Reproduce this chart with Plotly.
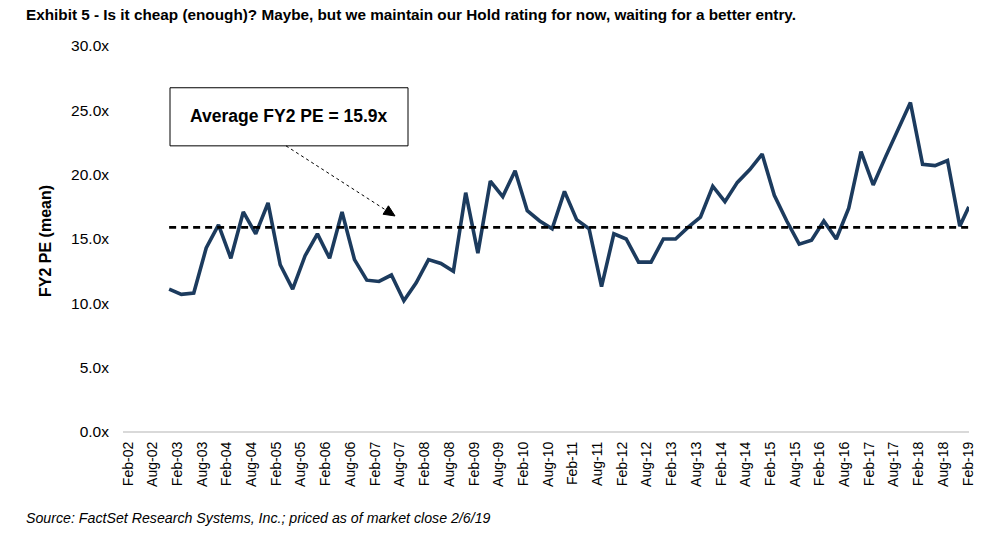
import plotly.graph_objects as go

# ---------------- data ----------------
dates = [
    "2002-12-01",
    "2003-03-01", "2003-06-01", "2003-09-01", "2003-12-01",
    "2004-03-01", "2004-06-01", "2004-09-01", "2004-12-01",
    "2005-03-01", "2005-06-01", "2005-09-01", "2005-12-01",
    "2006-03-01", "2006-06-01", "2006-09-01", "2006-12-01",
    "2007-03-01", "2007-06-01", "2007-09-01", "2007-12-01",
    "2008-03-01", "2008-06-01", "2008-09-01", "2008-12-01",
    "2009-03-01", "2009-06-01", "2009-09-01", "2009-12-01",
    "2010-03-01", "2010-06-01", "2010-09-01", "2010-12-01",
    "2011-03-01", "2011-06-01", "2011-09-01", "2011-12-01",
    "2012-03-01", "2012-06-01", "2012-09-01", "2012-12-01",
    "2013-03-01", "2013-06-01", "2013-09-01", "2013-12-01",
    "2014-03-01", "2014-06-01", "2014-09-01", "2014-12-01",
    "2015-03-01", "2015-06-01", "2015-09-01", "2015-12-01",
    "2016-03-01", "2016-06-01", "2016-09-01", "2016-12-01",
    "2017-03-01", "2017-06-01", "2017-09-01", "2017-12-01",
    "2018-03-01", "2018-06-01", "2018-09-01", "2018-12-01",
    "2019-02-06",
]

fy2_pe = [
    11.1,
    10.7, 10.8, 14.3, 16.1,
    13.5, 17.1, 15.4, 17.8,
    13.0, 11.1, 13.7, 15.4,
    13.5, 17.1, 13.4, 11.8,
    11.7, 12.2, 10.2, 11.6,
    13.4, 13.1, 12.5, 18.6,
    13.9, 19.5, 18.3, 20.3,
    17.2, 16.4, 15.8, 18.7,
    16.5, 15.8, 11.3, 15.4,
    15.0, 13.2, 13.2, 15.0,
    15.0, 15.9, 16.7, 19.1,
    17.9, 19.4, 20.4, 21.6,
    18.4, 16.4, 14.6, 14.9,
    16.4, 15.0, 17.4, 21.8,
    19.2, 21.4, 23.5, 25.6,
    20.8, 20.7, 21.1, 16.0,
    17.5,
]

average_pe = 15.9

tick_dates = [
    "2002-02-01", "2002-08-01", "2003-02-01", "2003-08-01", "2004-02-01", "2004-08-01",
    "2005-02-01", "2005-08-01", "2006-02-01", "2006-08-01", "2007-02-01", "2007-08-01",
    "2008-02-01", "2008-08-01", "2009-02-01", "2009-08-01", "2010-02-01", "2010-08-01",
    "2011-02-01", "2011-08-01", "2012-02-01", "2012-08-01", "2013-02-01", "2013-08-01",
    "2014-02-01", "2014-08-01", "2015-02-01", "2015-08-01", "2016-02-01", "2016-08-01",
    "2017-02-01", "2017-08-01", "2018-02-01", "2018-08-01", "2019-02-01",
]

y_ticks = [0, 5, 10, 15, 20, 25, 30]
y_tick_labels = ["0.0x", "5.0x", "10.0x", "15.0x", "20.0x", "25.0x", "30.0x"]

title_text = ("Exhibit 5 - Is it cheap (enough)? Maybe, but we maintain our Hold rating "
              "for now, waiting for a better entry.")
source_text = "Source: FactSet Research Systems, Inc.; priced as of market close 2/6/19"
box_text = "Average FY2 PE = 15.9x"
y_title = "FY2 PE (mean)"

# ---------------- layout helpers (window pixel -> paper) ----------------
# the page's default body margin is removed (post_script), so figure pixels == window pixels
W, H = 1000, 539
L, R, T, B = 123, 969, 46.3, 431.7   # plot area in window pixels


def px(x):
    return (x - L) / (R - L)


def py(y):
    return (B - y) / (B - T)


FONT = "Arial, Liberation Sans, sans-serif"
NAVY = "#1c3b5e"

fig = go.Figure()

fig.add_trace(go.Scatter(
    x=dates, y=fy2_pe, mode="lines",
    line=dict(color=NAVY, width=3.6),
    hoverinfo="skip", showlegend=False,
))

fig.add_trace(go.Scatter(
    x=dates, y=[average_pe] * len(dates), mode="lines",
    line=dict(color="black", width=2.6, dash="7px,5px"),
    hoverinfo="skip", showlegend=False,
))

# annotation box
bx0, bx1, by0, by1 = 170, 408, 88, 146
fig.add_shape(type="rect", xref="paper", yref="paper",
              x0=px(bx0), x1=px(bx1), y0=py(by1), y1=py(by0),
              line=dict(color="black", width=1), fillcolor="white", layer="above")
fig.add_annotation(xref="paper", yref="paper", x=px(289), y=py(116),
                   xanchor="center", yanchor="middle",
                   text="<b>" + box_text + "</b>", showarrow=False,
                   font=dict(family=FONT, size=17.5, color="black"))

# dotted arrow
sx, sy = 286, 146
tx, ty = 395, 216
dx, dy = tx - sx, ty - sy
n = (dx ** 2 + dy ** 2) ** 0.5
ux, uy = dx / n, dy / n
hl, hw = 11, 5
bcx, bcy = tx - hl * ux, ty - hl * uy
fig.add_shape(type="line", xref="paper", yref="paper",
              x0=px(sx), y0=py(sy), x1=px(bcx), y1=py(bcy),
              line=dict(color="black", width=1, dash="dot"))
p1 = (bcx - hw * (-uy), bcy - hw * ux)
p2 = (bcx + hw * (-uy), bcy + hw * ux)
path = "M {} {} L {} {} L {} {} Z".format(px(tx), py(ty), px(p1[0]), py(p1[1]), px(p2[0]), py(p2[1]))
fig.add_shape(type="path", xref="paper", yref="paper", path=path,
              fillcolor="black", line=dict(color="black", width=1))

# title, y title, source
fig.add_annotation(xref="paper", yref="paper", x=px(24), y=py(14.5), xanchor="left", yanchor="middle",
                   text="<b>" + title_text + "</b>", showarrow=False,
                   font=dict(family=FONT, size=15.3, color="black"))
fig.add_annotation(xref="paper", yref="paper", x=px(45), y=py(241), xanchor="center", yanchor="middle",
                   text="<b>" + y_title + "</b>", textangle=-90, showarrow=False,
                   font=dict(family=FONT, size=16, color="black"))
fig.add_annotation(xref="paper", yref="paper", x=px(24), y=py(518), xanchor="left", yanchor="middle",
                   text="<i>" + source_text + "</i>", showarrow=False,
                   font=dict(family=FONT, size=14.2, color="black"))

fig.update_layout(
    width=W, height=H, autosize=False,
    margin=dict(l=L, r=W - R, t=T, b=H - B, pad=0),
    paper_bgcolor="white", plot_bgcolor="white",
    font=dict(family=FONT, color="black"),
    showlegend=False,
    xaxis=dict(
        type="date", range=["2001-12-25", "2019-02-07"],
        tickvals=tick_dates, tickformat="%b-%y", tickangle=-90,
        tickfont=dict(family=FONT, size=14, color="black"),
        showgrid=False, zeroline=False, showline=False, ticks="",
        ticklabelstandoff=6,
    ),
    yaxis=dict(
        range=[0, 30], tickvals=y_ticks, ticktext=y_tick_labels,
        tickfont=dict(family=FONT, size=15.5, color="black"),
        showgrid=False, zeroline=True, zerolinecolor="#d9d9d9", zerolinewidth=1.5,
        showline=False, ticks="", ticklabelstandoff=13,
    ),
)

fig.write_html(
    "out.html",
    config={"displayModeBar": False},
    post_script="document.body.style.margin='0';document.body.style.overflow='hidden';",
)
